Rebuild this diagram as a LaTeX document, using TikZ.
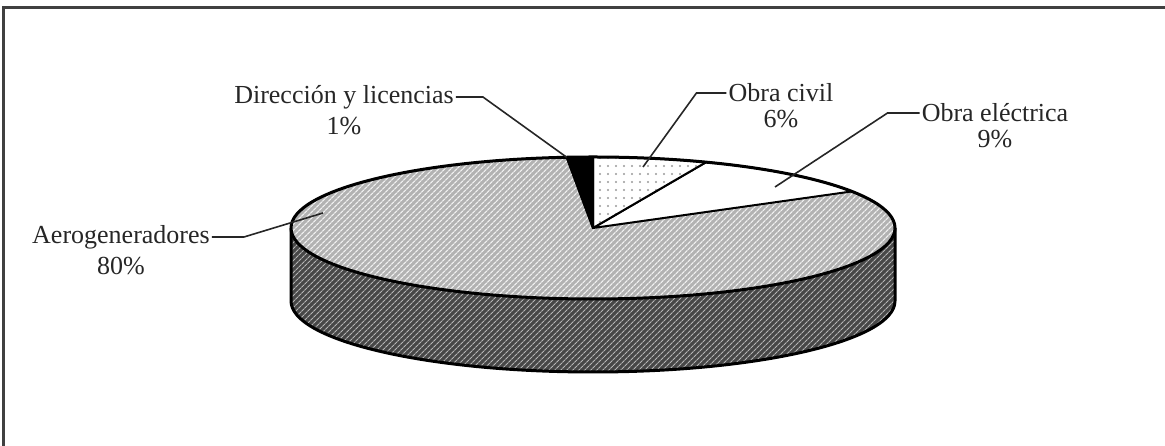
\documentclass[tikz,border=0pt]{standalone}
\usepackage{fontspec}
\setmainfont{Liberation Serif}
\usepackage{tikz}
\usetikzlibrary{calc}
\usetikzlibrary{patterns.meta}
\usetikzlibrary{positioning}

\begin{document}
\begin{tikzpicture}[x=1pt,y=1pt,
        lbl/.style={font=\fontsize{26}{30}\selectfont, text=black!85, inner sep=2pt},
        leader/.style={black!85, line width=1.6pt},
        rim/.style={black, line width=3pt, line join=round},
        wedge/.style={black, line width=2pt, line join=round},
        hatchtop/.style={preaction={fill=gray!60}, pattern={Lines[angle=45,distance=4pt,line width=1.3pt]}, pattern color=gray!12},
        hatchside/.style={preaction={fill=black!72}, pattern={Lines[angle=45,distance=4pt,line width=1.1pt]}, pattern color=gray!58},
        dotted fill/.style={preaction={fill=white}, pattern={Dots[distance=8pt,radius=1.1pt]}, pattern color=gray!80}]
        \useasboundingbox (0,0) rectangle (1165,446);
        % frame
        \draw[black!75, line width=3pt] (3,0) -- (3,438) -- (1165,438);

        \coordinate (ctr) at (593,218);
        \coordinate (low) at (593,145);
        \coordinate (p31) at ($(ctr)+(31:302pt and 71pt)$);
        \coordinate (p68) at ($(ctr)+(68:302pt and 71pt)$);
        \coordinate (p90) at ($(ctr)+(90:302pt and 71pt)$);
        \coordinate (p95) at ($(ctr)+(95:302pt and 71pt)$);

        % side of the disc
        \path[hatchside] ($(ctr)+(180:302pt and 71pt)$) -- ($(low)+(180:302pt and 71pt)$)
            arc[start angle=180, end angle=360, x radius=302pt, y radius=71pt]
            -- ($(ctr)+(0:302pt and 71pt)$)
            arc[start angle=0, end angle=-180, x radius=302pt, y radius=71pt] -- cycle;
        \draw[rim] ($(ctr)+(180:302pt and 71pt)$) -- ($(low)+(180:302pt and 71pt)$)
            arc[start angle=180, end angle=360, x radius=302pt, y radius=71pt]
            -- ($(ctr)+(0:302pt and 71pt)$);

        % slices on top
        \path[hatchtop] (ctr) -- (p31) arc[start angle=31, end angle=-265, x radius=302pt, y radius=71pt] -- cycle;
        \draw[wedge, fill=white] (ctr) -- (p31) arc[start angle=31, end angle=68, x radius=302pt, y radius=71pt] -- cycle;
        \draw[wedge, dotted fill] (ctr) -- (p68) arc[start angle=68, end angle=90, x radius=302pt, y radius=71pt] -- cycle;
        \draw[wedge, fill=black] (ctr) -- (p90) arc[start angle=90, end angle=95, x radius=302pt, y radius=71pt] -- cycle;
        \draw[wedge] (ctr) -- (p95);
        \draw[rim] (ctr) ellipse [x radius=302pt, y radius=71pt];

        % labels
        \node[lbl] (dir) at (344,349) {Dirección y licencias};
        \node[lbl, below=4pt of dir] (dirpct) {1\%};
        \node[lbl] (civ) at (781,353) {Obra civil};
        \node[lbl, below=4pt of civ] (civpct) {6\%};
        \node[lbl] (ele) at (995,333) {Obra eléctrica};
        \node[lbl, below=4pt of ele] (elepct) {9\%};
        \node[lbl] (aer) at (121,209) {Aerogeneradores};
        \node[lbl, below=4pt of aer] (aerpct) {80\%};

        % leaders
        \coordinate (civtip) at (643,279);
        \coordinate (eletip) at (775,259);
        \coordinate (aertip) at (323,233);
        \draw[leader] (dir.east) -- ++(27,0) -- (p95);
        \draw[leader] (civ.west) -- ++(-30,0) -- (civtip);
        \draw[leader] (ele.west) -- ++(-32,0) -- (eletip);
        \draw[leader] (aer.east) -- ++(32,0) -- (aertip);
\end{tikzpicture}
\end{document}
